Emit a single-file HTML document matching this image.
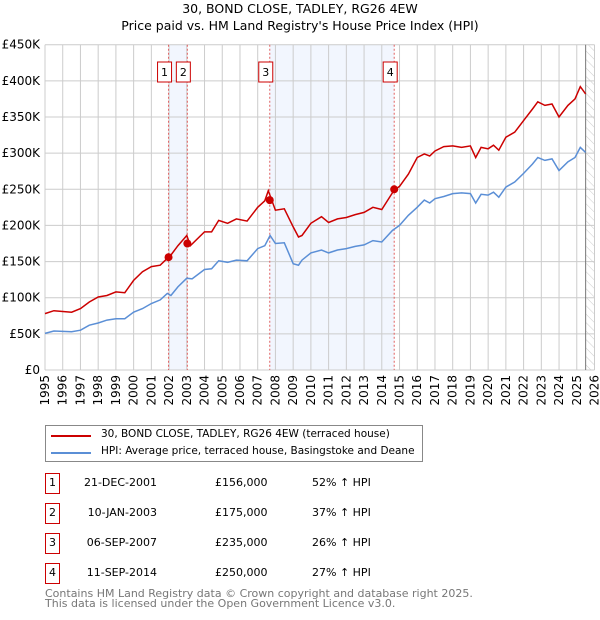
<!DOCTYPE html>
<html><head><meta charset="utf-8"><style>
body{margin:0;background:#fff;font-family:"DejaVu Sans","Liberation Sans",sans-serif;}
#wrap{position:relative;width:600px;height:620px;overflow:hidden;}
.t{position:absolute;font-size:12px;color:#000;white-space:nowrap;}
</style></head><body>
<div id="wrap">
<svg id="chart" width="600" height="620" style="position:absolute;left:0;top:0">
<defs><pattern id="hatch" width="6" height="6" patternUnits="userSpaceOnUse" patternTransform="rotate(-45)"><line x1="0" y1="0" x2="0" y2="6" stroke="#ccc" stroke-width="1"/></pattern></defs>
<text x="300" y="13" text-anchor="middle" font-size="12.5">30, BOND CLOSE, TADLEY, RG26 4EW</text>
<text x="300" y="30" text-anchor="middle" font-size="12.5">Price paid vs. HM Land Registry's House Price Index (HPI)</text>
<g id="grid"></g><g id="bands"></g><g id="series"></g><g id="axes"></g>
</svg>
<div style="position:absolute;left:45px;top:425px;width:376px;height:35px;border:1px solid #888;">
 <div style="position:absolute;left:5px;top:9px;width:40px;height:2px;background:#cc0000"></div>
 <div class="t" style="left:55px;top:2px;font-size:10.5px">30, BOND CLOSE, TADLEY, RG26 4EW (terraced house)</div>
 <div style="position:absolute;left:5px;top:26px;width:40px;height:2px;background:#5b8fd6"></div>
 <div class="t" style="left:55px;top:19px;font-size:10.5px">HPI: Average price, terraced house, Basingstoke and Deane</div>
</div>
<div id="table"></div>
<div class="t" style="left:45px;top:589px;font-size:11px;color:#777;line-height:10px">Contains HM Land Registry data © Crown copyright and database right 2025.<br>This data is licensed under the Open Government Licence v3.0.</div>
</div>
<script>
const yTicks=[0,50000,100000,150000,200000,250000,300000,350000,400000,450000];
const yTickLabels=["£0","£50K","£100K","£150K","£200K","£250K","£300K","£350K","£400K","£450K"];
const xYears=[1995,1996,1997,1998,1999,2000,2001,2002,2003,2004,2005,2006,2007,2008,2009,2010,2011,2012,2013,2014,2015,2016,2017,2018,2019,2020,2021,2022,2023,2024,2025,2026];
const hpiT=[1995.0,1995.5,1996.5,1997.0,1997.5,1998.0,1998.5,1999.0,1999.5,2000.0,2000.5,2001.0,2001.5,2001.9,2002.1,2002.5,2003.0,2003.3,2004.0,2004.4,2004.8,2005.3,2005.8,2006.4,2007.0,2007.4,2007.7,2008.0,2008.5,2009.0,2009.3,2009.5,2010.0,2010.6,2011.0,2011.5,2012.0,2012.5,2013.0,2013.5,2014.0,2014.6,2015.0,2015.5,2016.0,2016.4,2016.7,2017.0,2017.5,2018.0,2018.5,2019.0,2019.3,2019.6,2020.0,2020.3,2020.6,2021.0,2021.5,2022.0,2022.5,2022.8,2023.2,2023.6,2024.0,2024.5,2024.9,2025.2,2025.5];
const hpiV=[50.6,54,53,55,62,65,69,71,71,80,85,92,97,106,103,115,127,126,139,140,151,149,152,151,168,172,186,175,176,147,145,152,162,166,162,166,168,171,173,179,177,193,200,214,225,235,231,237,240,244,245,244,231,243,242,246,239,253,260,272,285,294,290,292,276,288,294,308,301];
const priceT=[1995.0,1995.5,1996.5,1997.0,1997.5,1998.0,1998.5,1999.0,1999.5,2000.0,2000.5,2001.0,2001.5,2001.97,2002.1,2002.5,2003.0,2003.2,2004.0,2004.4,2004.8,2005.3,2005.8,2006.4,2007.0,2007.4,2007.6,2008.0,2008.5,2009.0,2009.3,2009.5,2010.0,2010.6,2011.0,2011.5,2012.0,2012.5,2013.0,2013.5,2014.0,2014.7,2015.0,2015.5,2016.0,2016.4,2016.7,2017.0,2017.5,2018.0,2018.5,2019.0,2019.3,2019.6,2020.0,2020.3,2020.6,2021.0,2021.5,2022.0,2022.5,2022.8,2023.2,2023.6,2024.0,2024.5,2024.9,2025.2,2025.5];
const priceV=[78,82,80,85,94,101,103,108,107,124,136,143,145,156,159,172,186,172,191,191,207,203,209,206,225,234,248,221,223,198,184,186,203,212,204,209,211,215,218,225,222,249,254,271,294,299,296,303,309,310,308,310,294,308,306,311,304,322,329,345,361,371,366,368,350,366,375,392,382];
const saleT=[2001.97,2003.03,2007.68,2014.7];
const saleV=[156000,175000,235000,250000];
const saleLabels=["1","2","3","4"];
const saleDates=["21-DEC-2001","10-JAN-2003","06-SEP-2007","11-SEP-2014"];
const salePrices=["£156,000","£175,000","£235,000","£250,000"];
const saleHpi=["52% ↑ HPI","37% ↑ HPI","26% ↑ HPI","27% ↑ HPI"];
const dataEnd=2025.5;

const X0=45,X1=594.5,Y0=370,Y1=44.7;
const xs=t=>X0+(t-1995)/(2026-1995)*(X1-X0);
const ys=v=>Y0-v/450000*(Y0-Y1);
const NS="http://www.w3.org/2000/svg";
function mk(tag,attrs,parent){const e=document.createElementNS(NS,tag);for(const k in attrs)e.setAttribute(k,attrs[k]);parent.appendChild(e);return e;}
const grid=document.getElementById('grid'),bands=document.getElementById('bands'),series=document.getElementById('series'),axes=document.getElementById('axes');

[[0,1],[2,3]].forEach((p,i)=>{const r=mk('rect',{x:xs(saleT[p[0]]),y:Y1,width:xs(saleT[p[1]])-xs(saleT[p[0]]),height:Y0-Y1,fill:'#f2f6fe'},grid);

});
const h=mk('rect',{x:xs(dataEnd),y:Y1,width:X1-xs(dataEnd),height:Y0-Y1,fill:'url(#hatch)'},grid);


xYears.forEach(y=>{const l=mk('line',{x1:xs(y),x2:xs(y),y1:Y1,y2:Y0,stroke:'#cccccc','stroke-width':1},grid);


const tx=mk('text',{x:0,y:0,'font-size':12,'text-anchor':'end',transform:`translate(${xs(y)+4},${Y0+5}) rotate(-90)`},axes);tx.textContent=y;

});
yTicks.forEach((v,i)=>{const l=mk('line',{x1:X0,x2:X1,y1:ys(v),y2:ys(v),stroke:'#cccccc','stroke-width':1},grid);


const tx=mk('text',{x:40,y:ys(v)+4,'font-size':12,'text-anchor':'end'},axes);tx.textContent=yTickLabels[i];

});
const el=mk('line',{x1:xs(dataEnd),x2:xs(dataEnd),y1:Y1,y2:Y0,stroke:'#777','stroke-width':1},grid);


saleT.forEach((t,i)=>{const l=mk('line',{x1:xs(t),x2:xs(t),y1:Y1,y2:Y0,stroke:'#e06060','stroke-width':1,'stroke-dasharray':'2,2'},grid);


const bx=xs(t)-4;
const r=mk('rect',{x:bx-7,y:62,width:14,height:20,fill:'#fff',stroke:'#cc0000','stroke-width':1},axes);


const tx=mk('text',{x:bx,y:76,'font-size':11,'text-anchor':'middle'},axes);tx.textContent=saleLabels[i];

});
function path(T,V,scale){return T.map((t,i)=>(i?'L':'M')+xs(t).toFixed(1)+','+ys(V[i]*scale).toFixed(1)).join('');}
const hp=mk('path',{d:path(hpiT,hpiV,1000),fill:'none',stroke:'#5b8fd6','stroke-width':1.5},series);


const pp=mk('path',{d:path(priceT,priceV,1000),fill:'none',stroke:'#cc0000','stroke-width':1.5},series);


saleT.forEach((t,i)=>{const c=mk('circle',{cx:xs(t),cy:ys(saleV[i]),r:4,fill:'#cc0000'},series);

});
const tb=document.getElementById('table');
saleT.forEach((t,i)=>{const y=473+i*30;
const row=document.createElement('div');row.style.cssText=`position:absolute;left:0;top:${y}px;width:600px;height:20px`;


row.innerHTML=`<div style="position:absolute;left:45px;top:0;width:13px;height:19px;border:1px solid #cc0000;font-size:11px;text-align:center;line-height:18px">${saleLabels[i]}</div>
<div class="t" style="left:157px;top:3px;width:0;text-align:right;direction:rtl;font-size:11px"><span style="direction:ltr;unicode-bidi:embed">${saleDates[i]}</span></div>
<div class="t" style="left:215px;top:3px;font-size:11px">${salePrices[i]}</div>
<div class="t" style="left:312px;top:3px;font-size:11px">${saleHpi[i]}</div>`;
tb.appendChild(row);});
</script>
</body></html>
